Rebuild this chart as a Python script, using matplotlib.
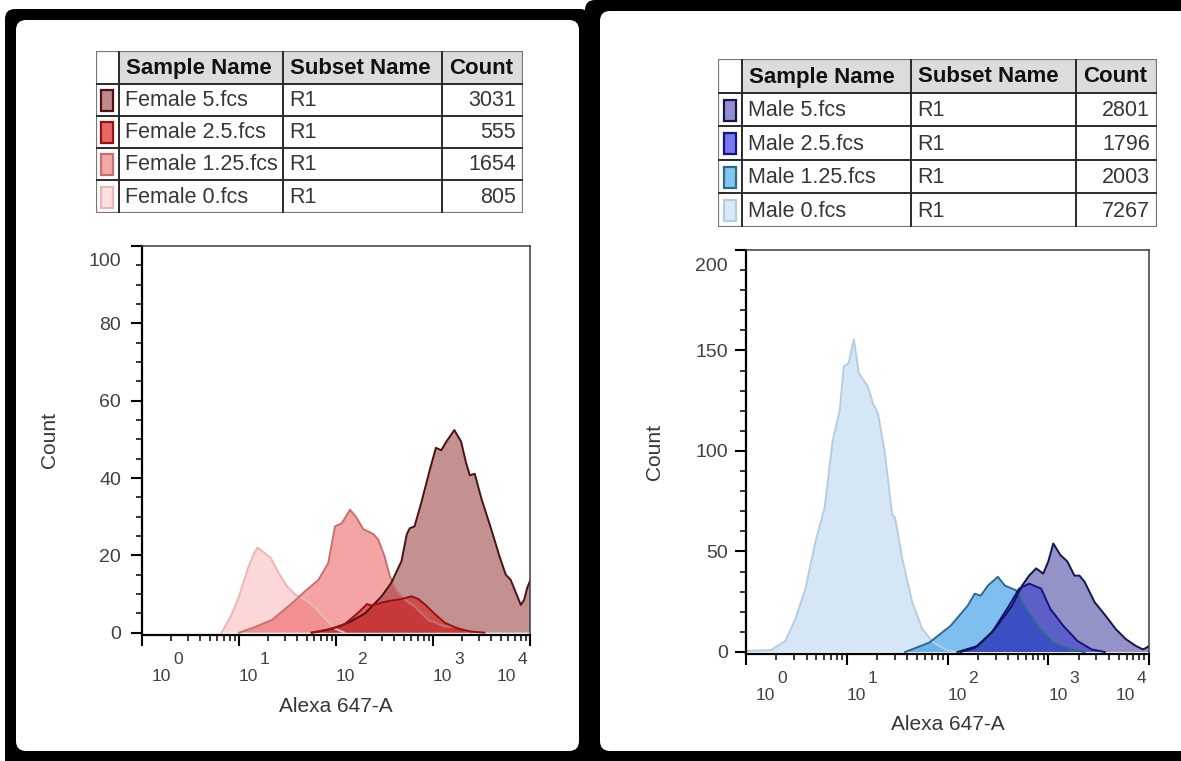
import numpy as np
import matplotlib
matplotlib.use("Agg")
import matplotlib.pyplot as plt
from matplotlib.patches import Rectangle, FancyBboxPatch
from matplotlib.ticker import LogLocator, NullFormatter, MultipleLocator

plt.rcParams['font.family'] = ['Liberation Sans', 'DejaVu Sans']

# sample tables
headers = ["Sample Name", "Subset Name", "Count"]
subset = "R1"
female_names = ["Female 5.fcs", "Female 2.5.fcs", "Female 1.25.fcs", "Female 0.fcs"]
female_counts = [3031, 555, 1654, 805]
male_names = ["Male 5.fcs", "Male 2.5.fcs", "Male 1.25.fcs", "Male 0.fcs"]
male_counts = [2801, 1796, 2003, 7267]

# histogram traces: log10(Alexa 647-A) vs count
f5_lx = [1.75, 1.92, 2.03, 2.16, 2.30, 2.47, 2.57, 2.675, 2.73, 2.76, 2.81, 2.88, 2.97, 3.03,
         3.085, 3.14, 3.22, 3.29, 3.34, 3.38, 3.43, 3.50, 3.60, 3.685, 3.75, 3.80, 3.87, 3.905,
         3.94, 3.97, 4.0]
f5_ct = [0, 0.8, 1.6, 3, 5, 9.4, 12.9, 18.5, 25.5, 27, 27.5, 33.7, 42.4, 47.8,
         47.2, 49.5, 52.4, 49.4, 44, 40.7, 41.1, 34.6, 26.8, 19.8, 15, 13.7, 9.4, 7.2,
         8.5, 11.5, 13.4]
f25_lx = [1.75, 1.92, 2.09, 2.23, 2.32, 2.37, 2.47, 2.57, 2.675, 2.78, 2.85, 2.93, 3.02,
          3.12, 3.26, 3.39, 3.53]
f25_ct = [0, 0.8, 2.2, 5.2, 7.4, 7.0, 7.8, 8.3, 8.7, 9.4, 8.7, 7, 4.8, 2.6, 1.0, 0.3, 0]
f125_lx = [1.0, 1.17, 1.34, 1.55, 1.68, 1.82, 1.92, 1.99, 2.06, 2.145, 2.21, 2.28, 2.385,
           2.435, 2.50, 2.555, 2.625, 2.71, 2.81, 2.95, 3.12, 3.26, 3.39]
f125_ct = [0, 1.5, 3.3, 7.7, 10.7, 13.7, 18, 27.5, 28.3, 31.8, 29.8, 26.8, 25.5,
           24.1, 19.8, 14.6, 10.7, 8.5, 6.8, 3.3, 1.6, 1.4, 0]
f0_lx = [0.82, 0.915, 1.0, 1.10, 1.155, 1.19, 1.24, 1.325, 1.41, 1.495, 1.58, 1.685,
         1.785, 1.89, 1.99, 2.09]
f0_ct = [0, 4.2, 9.4, 17.2, 20.5, 22, 21.1, 19.4, 15.4, 12, 9.8, 8.5, 6.5, 3.5, 1, 0]

m5_lx = [2.10, 2.30, 2.47, 2.64, 2.74, 2.81, 2.88, 2.95, 3.0, 3.05, 3.12, 3.19, 3.26, 3.31,
         3.36, 3.46, 3.57, 3.67, 3.77, 3.87, 3.94, 3.97, 4.0]
m5_ct = [0, 3, 11.4, 23, 33, 38, 41.6, 39, 45, 54, 48.3, 45, 38, 38,
         35, 24.8, 18, 11.4, 6.4, 3, 1.3, 2, 3]
m25_lx = [2.13, 2.27, 2.44, 2.61, 2.71, 2.81, 2.93, 3.02, 3.15, 3.29, 3.43, 3.56]
m25_ct = [0, 2, 9.7, 23, 31.5, 34, 31.5, 21.5, 13, 5.5, 1.3, 0]
m125_lx = [1.58, 1.82, 2.03, 2.20, 2.27, 2.33, 2.40, 2.50, 2.57, 2.68, 2.78, 2.92, 3.05,
           3.22, 3.36]
m125_ct = [0, 4.7, 13, 23, 29, 28, 33, 37.4, 33, 30.7, 21.5, 11.4, 4.7, 1.3, 0]
m0_lx = [0.0, 0.25, 0.39, 0.49, 0.59, 0.69, 0.78, 0.86, 0.93, 0.97, 1.02, 1.07, 1.12, 1.21,
         1.26, 1.31, 1.38, 1.45, 1.48, 1.55, 1.65, 1.75, 1.86, 1.99, 2.10]
m0_ct = [0.5, 1, 5.5, 16.4, 31.5, 55, 71.7, 105, 120, 142, 143.8, 155.5, 138.8, 132,
         123.7, 118.7, 98.6, 68.4, 66.7, 46.6, 24.8, 11.4, 4.7, 1, 0]

# fill / outline colours, in table order (5, 2.5, 1.25, 0)
female_fill = ["#8b2525", "#d01010", "#eb4b4b", "#f9b1b1"]
female_edge = ["#4a1212", "#9a1010", "#c87070", "#e8b8b8"]
female_swatch = ["#c08a8a", "#e86868", "#f4a8a8", "#fbe0e0"]
male_fill = ["#282890", "#2030ff", "#0080e0", "#acd1f1"]
male_edge = ["#141450", "#141480", "#2f6a8c", "#b5cde0"]
male_swatch = ["#9090d0", "#7878f0", "#80c8f0", "#d8eaf8"]

W, H = 1181, 761
fig = plt.figure(figsize=(W / 100, H / 100), dpi=100)
fig.patch.set_facecolor("white")

# pixel-space canvas for the two framed panels
bg = fig.add_axes([0, 0, 1, 1], zorder=0)
bg.set_xlim(0, W)
bg.set_ylim(H, 0)
bg.axis("off")
for (x0, y0, x1, y1), fc in [((5, 9, 590, 770), "black"), ((16, 20, 579, 751), "white"),
                             ((585, 0, 1200, 770), "black"), ((600, 11, 1200, 751), "white")]:
    bg.add_patch(FancyBboxPatch((x0, y0), x1 - x0, y1 - y0,
                                boxstyle="round,pad=0,rounding_size=10",
                                facecolor=fc, edgecolor="none"))

TXT = "#363636"


def to_fig(x0, y0, x1, y1):
    return [x0 / W, 1 - y1 / H, (x1 - x0) / W, (y1 - y0) / H]


def draw_table(xs, ys, names, counts, swatches, edges):
    ax = fig.add_axes(to_fig(xs[0], ys[0], xs[-1], ys[-1]), zorder=2)
    w, h = xs[-1] - xs[0], ys[-1] - ys[0]
    cx = [x - xs[0] for x in xs]
    cy = [y - ys[0] for y in ys]
    ax.set_xlim(0, w)
    ax.set_ylim(h, 0)
    ax.axis("off")
    ax.add_patch(Rectangle((cx[1], 0), w - cx[1], cy[1], facecolor="#dcdcdc", edgecolor="none"))
    for y in cy[1:-1]:
        ax.plot([0, w], [y, y], color="#2a2a2a", lw=1.4)
    for x in cx[1:-1]:
        ax.plot([x, x], [0, h], color="#2a2a2a", lw=1.4)
    ax.add_patch(Rectangle((0, 0), w, h, facecolor="none", edgecolor="#777777", lw=1.6))
    hy = cy[1] / 2
    for i, lab in enumerate(headers):
        ax.text(cx[i + 1] + 7, hy + 1, lab, fontsize=16, fontweight="bold",
                color="#111111", ha="left", va="center")
    for r, (nm, ct) in enumerate(zip(names, counts)):
        ym = (cy[r + 1] + cy[r + 2]) / 2 + 1
        ax.text(cx[1] + 6, ym, nm, fontsize=15.5, color=TXT, ha="left", va="center")
        ax.text(cx[2] + 6, ym, subset, fontsize=15.5, color=TXT, ha="left", va="center")
        ax.text(cx[4] - 7, ym, str(ct), fontsize=15.5, color=TXT, ha="right", va="center")
        sw = Rectangle((cx[1] / 2 - 6, ym - 11), 12, 21, facecolor=swatches[r],
                       edgecolor=edges[r], lw=1.6)
        ax.add_patch(sw)


def draw_hist(box, lxs, cts, fills, edges, order, ymax, ybot, major, minor, top_label, ypad):
    ax = fig.add_axes(to_fig(*box), zorder=2)
    # overlays drawn back to front in the given order
    for i in order:
        x = 10 ** np.asarray(lxs[i])
        ax.fill_between(x, cts[i], 0, facecolor=fills[i], alpha=0.5, linewidth=0)
        ax.plot(x, cts[i], color=edges[i], lw=1.4)
    ax.set_xscale("log")
    ax.set_xlim(1, 1e4)
    ax.set_ylim(ybot, ymax)
    ax.xaxis.set_major_locator(LogLocator(base=10, numticks=10))
    ax.xaxis.set_minor_locator(LogLocator(base=10, subs=np.arange(2, 10), numticks=50))
    ax.xaxis.set_minor_formatter(NullFormatter())
    ticks = list(range(0, ymax + 1, major))
    ax.set_yticks(ticks)
    ax.set_yticklabels([str(t) for t in ticks[:-1]] + [""])
    ax.yaxis.set_minor_locator(MultipleLocator(minor))
    ax.tick_params(axis="both", which="major", direction="out", length=8, width=1.5,
                   color="black", labelsize=14, labelcolor="#404040")
    ax.tick_params(axis="both", which="minor", direction="out", length=4.5, width=1.1,
                   color="black")
    ax.tick_params(axis="y", pad=ypad)
    ax.tick_params(axis="x", labelbottom=False)
    for s in ("left", "bottom"):
        ax.spines[s].set_linewidth(1.6)
        ax.spines[s].set_color("black")
    for s in ("top", "right"):
        ax.spines[s].set_linewidth(1.1)
        ax.spines[s].set_color("#3c3c3c")
    # top count label sits a little below its tick
    ax.annotate(top_label, xy=(0, ymax), xycoords=("axes fraction", "data"),
                xytext=(-(11 + ypad * 100 / 72), -16), textcoords="offset pixels",
                ha="right", va="center", fontsize=14, color="#404040")
    # decade labels as 10 with a raised exponent
    for k in range(5):
        if k == 0:
            dx = 10
        elif k == 4:
            dx = -33
        else:
            dx = 0
        ax.annotate("10", xy=(10 ** k, 0), xycoords=("data", "axes fraction"),
                    xytext=(dx, -46), textcoords="offset pixels",
                    ha="left", va="baseline", fontsize=12.5, color="#404040")
        ax.annotate(str(k), xy=(10 ** k, 0), xycoords=("data", "axes fraction"),
                    xytext=(dx + 21, -29), textcoords="offset pixels",
                    ha="left", va="baseline", fontsize=12.5, color="#404040")
    ax.set_xlabel("Alexa 647-A", fontsize=15, color=TXT)
    ax.xaxis.set_label_coords(0.5, -71 / (box[3] - box[1]))
    ax.xaxis.label.set_va("center")
    ax.set_ylabel("Count", fontsize=15, color=TXT)
    ax.yaxis.set_label_coords(-92 / (box[2] - box[0]), 0.5)
    ax.yaxis.label.set_va("center")
    return ax


draw_table([96, 119, 283, 442, 523], [51, 84, 116, 148, 180, 213],
           female_names, female_counts, female_swatch, female_edge)
draw_table([718, 742, 911, 1076, 1157], [59, 93, 126, 160, 193, 227],
           male_names, male_counts, male_swatch, male_edge)

draw_hist((142, 246, 530, 635),
          [f5_lx, f25_lx, f125_lx, f0_lx], [f5_ct, f25_ct, f125_ct, f0_ct],
          female_fill, female_edge, [3, 2, 0, 1], 100, -0.6, 20, 5, "100", 7)
draw_hist((746, 250, 1149, 654),
          [m5_lx, m25_lx, m125_lx, m0_lx], [m5_ct, m25_ct, m125_ct, m0_ct],
          male_fill, male_edge, [3, 2, 1, 0], 200, -1, 50, 10, "200", 5)

fig.savefig("out.png", dpi=100)
